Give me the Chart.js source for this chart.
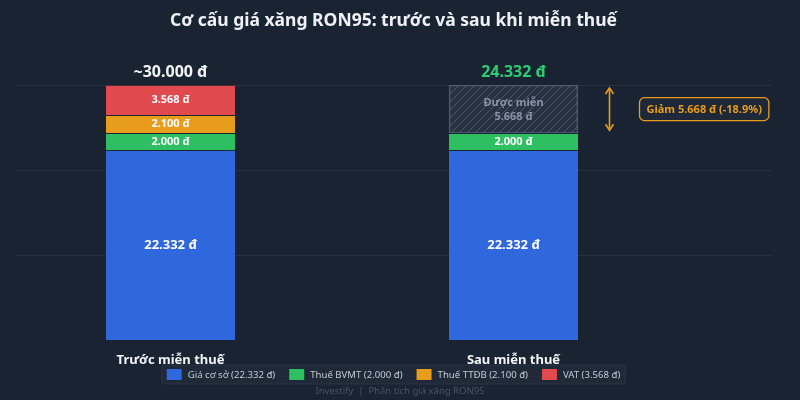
<!DOCTYPE html>
<html>
<head>
<meta charset="utf-8">
<script src="https://cdn.jsdelivr.net/npm/chart.js@4.4.1/dist/chart.umd.min.js"></script>
<style>
  html, body { margin: 0; padding: 0; background: #1a2332; }
  #wrap { width: 800px; height: 400px; position: relative; }
</style>
</head>
<body>
<div id="wrap"><canvas id="c" width="800" height="400"></canvas></div>
<script>
// ---- data ----
const categories = ['Trước miễn thuế', 'Sau miễn thuế'];
const basePrice = [22332, 22332];
const taxBVMT = [2000, 2000];
const taxTTDB = [2100, null];
const taxVAT = [3568, null];
const exempted = [null, 5668];
const totalLabels = ['~30.000 đ', '24.332 đ'];
const seriesNames = ['Giá cơ sở (22.332 đ)', 'Thuế BVMT (2.000 đ)', 'Thuế TTĐB (2.100 đ)', 'VAT (3.568 đ)'];
const exemptedName = 'Được miễn';
const reductionLabel = 'Giảm 5.668 đ (-18.9%)';
const yTicks = [0, 10000, 20000, 30000];
const footerText = 'Investify  |  Phân tích giá xăng RON95';

const BG = '#1a2332';
const FONT = "'Noto Sans', 'Open Sans', sans-serif";
const colors = ['#2f68dc', '#2ebf62', '#e89c1c', '#e04a4f'];

function fmt(v) {
  return String(v).replace(/\B(?=(\d{3})+(?!\d))/g, '.') + ' đ';
}

function hatchPattern() {
  const c = document.createElement('canvas');
  c.width = 8; c.height = 8;
  const g = c.getContext('2d');
  g.fillStyle = 'rgba(120,132,155,0.16)';
  g.fillRect(0, 0, 8, 8);
  g.strokeStyle = 'rgba(150,160,180,0.35)';
  g.lineWidth = 1;
  g.beginPath();
  g.moveTo(-2, 10); g.lineTo(10, -2);
  g.moveTo(-2, 2); g.lineTo(2, -2);
  g.moveTo(6, 10); g.lineTo(10, 6);
  g.stroke();
  return g.createPattern(c, 'repeat');
}

const toPts = arr => arr.map((v, i) => ({ x: i, y: v }));

const segDatasets = [basePrice, taxBVMT, taxTTDB, taxVAT].map((arr, i) => ({
  label: seriesNames[i],
  data: toPts(arr),
  backgroundColor: colors[i],
  borderColor: BG,
  borderWidth: { top: 1, left: 0, right: 0, bottom: 0 },
  borderSkipped: false
}));
const exDataset = {
  label: exemptedName,
  data: toPts(exempted),
  backgroundColor: hatchPattern(),
  borderColor: 'rgba(110,122,145,0.55)',
  borderWidth: 1,
  borderSkipped: false,
  isExempt: true
};

const bgPlugin = {
  id: 'bg',
  beforeDraw(chart) {
    const ctx = chart.ctx;
    ctx.save();
    ctx.fillStyle = BG;
    ctx.fillRect(0, 0, chart.width, chart.height);
    ctx.restore();
  }
};

const labelPlugin = {
  id: 'labels',
  afterDatasetsDraw(chart) {
    const ctx = chart.ctx;
    const xs = chart.scales.x, ys = chart.scales.y;
    ctx.save();
    ctx.textAlign = 'center';
    ctx.textBaseline = 'middle';
    chart.data.datasets.forEach((ds, di) => {
      const meta = chart.getDatasetMeta(di);
      meta.data.forEach((bar, i) => {
        const v = ds.data[i].y;
        if (v === null || v === undefined) return;
        const cy = (bar.y + bar.base) / 2;
        if (ds.isExempt) {
          ctx.fillStyle = '#8a93a5';
          ctx.font = `bold 11px ${FONT}`;
          ctx.fillText(exemptedName, bar.x, cy - 6);
          ctx.fillText(fmt(v), bar.x, cy + 8);
        } else {
          ctx.fillStyle = '#ffffff';
          ctx.font = di === 0 ? `bold 13px ${FONT}` : `bold 11px ${FONT}`;
          ctx.fillText(fmt(v), bar.x, cy);
        }
      });
    });
    // totals above bars
    categories.forEach((c, i) => {
      const visibleTotal = [basePrice, taxBVMT, taxTTDB, taxVAT, exempted]
        .reduce((s, a) => s + (a[i] || 0), 0);
      const px = xs.getPixelForValue(i);
      const py = ys.getPixelForValue(visibleTotal) - 13;
      ctx.font = `bold 16px ${FONT}`;
      ctx.fillStyle = i === 0 ? '#f2f4f7' : '#2ecc71';
      ctx.fillText(totalLabels[i], px, py);
    });
    // reduction arrow + badge
    const top = ys.getPixelForValue(basePrice[1] + taxBVMT[1] + exempted[1]) + 3;
    const bot = ys.getPixelForValue(basePrice[1] + taxBVMT[1]) - 3;
    const ax = xs.getPixelForValue(1) + 96;
    ctx.strokeStyle = '#e89c1c';
    ctx.fillStyle = '#e89c1c';
    ctx.lineWidth = 1.6;
    ctx.beginPath();
    ctx.moveTo(ax, top + 2); ctx.lineTo(ax, bot - 2);
    ctx.stroke();
    ctx.beginPath();
    ctx.moveTo(ax - 4, top + 6); ctx.lineTo(ax, top); ctx.lineTo(ax + 4, top + 6);
    ctx.moveTo(ax - 4, bot - 6); ctx.lineTo(ax, bot); ctx.lineTo(ax + 4, bot - 6);
    ctx.stroke();
    const my = (top + bot) / 2;
    ctx.font = `bold 11px ${FONT}`;
    const tw = ctx.measureText(reductionLabel).width;
    const bw = tw + 14, bh = 23;
    const bx = ax + 30;
    ctx.beginPath();
    ctx.roundRect(bx, my - bh / 2, bw, bh, 5);
    ctx.fillStyle = '#1e2838';
    ctx.fill();
    ctx.lineWidth = 1.3;
    ctx.strokeStyle = '#e89c1c';
    ctx.stroke();
    ctx.fillStyle = '#e89c1c';
    ctx.fillText(reductionLabel, bx + bw / 2, my + 0.5);
    ctx.restore();
  }
};

const legendPlugin = {
  id: 'customLegend',
  afterDraw(chart) {
    const ctx = chart.ctx;
    const ca = chart.chartArea;
    ctx.save();
    ctx.font = `9.6px ${FONT}`;
    const sw = 15, sh = 11, gapText = 6, gapItem = 14, pad = 5;
    const widths = seriesNames.map(n => sw + gapText + ctx.measureText(n).width);
    const total = widths.reduce((a, b) => a + b, 0) + gapItem * (seriesNames.length - 1);
    const cx = (ca.left + ca.right) / 2;
    const boxL = cx - total / 2 - pad;
    const boxT = 365, boxH = 19;
    ctx.beginPath();
    ctx.roundRect(boxL, boxT, total + pad * 2, boxH, 3);
    ctx.fillStyle = '#1f2938';
    ctx.fill();
    ctx.strokeStyle = '#2b3546';
    ctx.lineWidth = 1;
    ctx.stroke();
    let x = boxL + pad;
    const cy = boxT + boxH / 2;
    ctx.textBaseline = 'middle';
    ctx.textAlign = 'left';
    seriesNames.forEach((n, i) => {
      ctx.fillStyle = colors[i];
      ctx.fillRect(x, cy - sh / 2, sw, sh);
      ctx.fillStyle = '#c3c9d3';
      ctx.fillText(n, x + sw + gapText, cy + 0.5);
      x += widths[i] + gapItem;
    });
    // footer
    ctx.textAlign = 'center';
    ctx.font = `9.5px ${FONT}`;
    ctx.fillStyle = '#4a5467';
    ctx.fillText(footerText, 400, 391);
    ctx.restore();
  }
};

new Chart(document.getElementById('c'), {
  type: 'bar',
  data: { datasets: [...segDatasets, exDataset] },
  options: {
    responsive: false,
    animation: false,
    devicePixelRatio: 1,
    layout: { padding: { top: 0, left: 16, right: 29, bottom: 20 } },
    barThickness: 129,
    plugins: {
      legend: { display: false },
      tooltip: { enabled: false },
      title: {
        display: true,
        text: 'Cơ cấu giá xăng RON95: trước và sau khi miễn thuế',
        color: '#eef1f5',
        font: { family: FONT, size: 17.5, weight: 'bold' },
        padding: { top: 11, bottom: 53 }
      }
    },
    scales: {
      x: {
        type: 'linear',
        stacked: true,
        offset: false,
        min: -0.4504,
        max: 1.7507,
        afterBuildTicks: s => { s.ticks = categories.map((c, i) => ({ value: i })); },
        ticks: {
          autoSkip: false,
          maxRotation: 0,
          padding: 12,
          color: '#f2f4f7',
          font: { family: FONT, size: 13, weight: 'bold' },
          callback: v => categories[v]
        },
        grid: { display: false, drawTicks: false, offset: false },
        border: { display: false }
      },
      y: {
        stacked: true,
        min: yTicks[0],
        max: yTicks[yTicks.length - 1],
        afterBuildTicks: s => { s.ticks = yTicks.map(v => ({ value: v })); },
        ticks: { display: false },
        grid: {
          drawTicks: false,
          color: c => c.tick && c.tick.value === 0 ? 'rgba(0,0,0,0)' : 'rgba(255,255,255,0.065)'
        },
        border: { display: false }
      }
    }
  },
  plugins: [bgPlugin, labelPlugin, legendPlugin]
});
</script>
</body>
</html>
